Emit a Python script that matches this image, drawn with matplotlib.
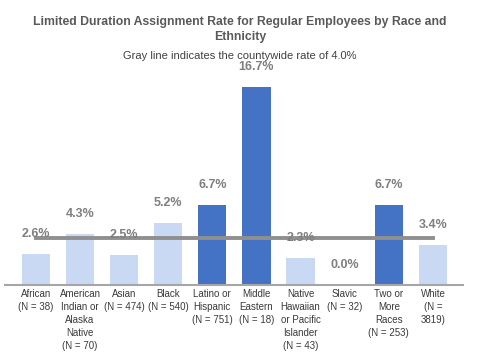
import matplotlib
matplotlib.use("Agg")
import matplotlib.pyplot as plt

groups = ["African\n(N = 38)", "American\nIndian or\nAlaska\nNative\n(N = 70)", "Asian\n(N = 474)",
          "Black\n(N = 540)", "Latino or\nHispanic\n(N = 751)", "Middle\nEastern\n(N = 18)",
          "Native\nHawaiian\nor Pacific\nIslander\n(N = 43)", "Slavic\n(N = 32)",
          "Two or\nMore\nRaces\n(N = 253)", "White\n(N =\n3819)"]
rates = [2.6, 4.3, 2.5, 5.2, 6.7, 16.7, 2.3, 0.0, 6.7, 3.4]
highlight = [False, False, False, False, True, True, False, False, True, False]
countywide = 4.0

light = "#c9d9f3"
dark = "#4472c4"

plt.rcParams['font.family'] = ['Liberation Sans', 'DejaVu Sans']

fig = plt.figure(figsize=(4.8, 3.61), dpi=100)
ax = fig.add_axes([0.0104, 0.2105, 0.954, 0.592])

x = list(range(len(rates)))
colors = [dark if h else light for h in highlight]
ax.bar(x, rates, width=0.64, color=colors, zorder=2)

ax.plot([x[0], x[-1]], [countywide, countywide], color="#8f8f8f", lw=2.8, zorder=3)

for xi, r in zip(x, rates):
    ax.annotate(f"{r:.1f}%", (xi, r), xytext=(0, 14.5), textcoords="offset points",
                ha="center", va="center", fontsize=9, fontweight="bold", color="#7f7f7f", zorder=4)

ax.set_xlim(-0.7, 9.68)
ax.set_ylim(0, 18)
ax.set_xticks(x)
ax.set_xticklabels(groups, fontsize=7, color="#3a3a3a", linespacing=1.38)
ax.tick_params(axis="x", length=0, pad=3)
ax.set_yticks([])
for s in ["top", "right", "left"]:
    ax.spines[s].set_visible(False)
ax.spines["bottom"].set_color("#a6a6a6")
ax.spines["bottom"].set_linewidth(1.5)

fig.text(0.5, 0.918, "Limited Duration Assignment Rate for Regular Employees by Race and\nEthnicity",
         ha="center", va="center", fontsize=8.8, fontweight="bold", color="#595959", linespacing=1.3)
fig.text(0.5, 0.846, "Gray line indicates the countywide rate of 4.0%",
         ha="center", va="center", fontsize=8, color="#404040")

fig.savefig("out.png", dpi=100)
